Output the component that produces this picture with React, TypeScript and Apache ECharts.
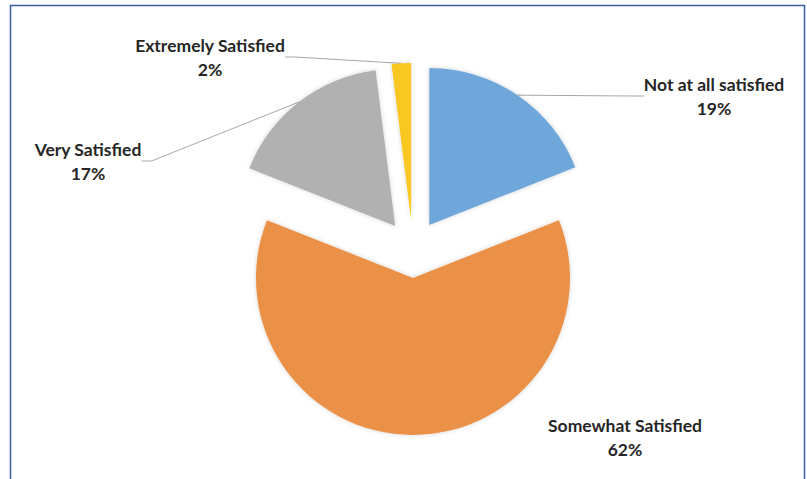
import React, { useEffect, useRef } from "react";
import * as echarts from "echarts";

const categories = ["Not at all satisfied", "Somewhat Satisfied", "Very Satisfied", "Extremely Satisfied"];
const percentValues = [19, 62, 17, 2];
const sliceColors = ["#6fa7da", "#eb9047", "#b1b1b1", "#f8c724"];
const labelCenters: [number, number][] = [
  [714, 96],
  [625, 437],
  [88, 161],
  [210, 57],
];
const showLeader = [true, false, true, true];

const CX = 413;
const CY = 249;
const RADIUS = 157;
const EXPLODE = 29;

export default function App() {
  const ref = useRef<HTMLDivElement>(null);
  useEffect(() => {
    if (!ref.current) return;
    const chart = echarts.init(ref.current, undefined, { renderer: "svg" });
    const total = percentValues.reduce((a, b) => a + b, 0);
    let acc = 0;
    const series = categories.map((_, k) => {
      const start = acc;
      acc += percentValues[k];
      const midAngle = ((start + percentValues[k] / 2) / total) * Math.PI * 2;
      const cx = CX + EXPLODE * Math.sin(midAngle);
      const cy = CY - EXPLODE * Math.cos(midAngle);
      return {
        type: "pie",
        center: [cx, cy],
        radius: RADIUS,
        startAngle: 90,
        clockwise: true,
        avoidLabelOverlap: false,
        emphasis: { disabled: true },
        silent: true,
        label: {
          show: true,
          position: "outside",
          formatter: (p: any) => `${p.name}\n${p.value}%`,
          fontFamily: "Lato",
          fontWeight: "bold",
          fontSize: 17.5,
          lineHeight: 24,
          color: "#262626",
        },
        labelLine: {
          show: true,
          length: 20,
          length2: 10,
          lineStyle: { color: "#a6a6a6", width: 1 },
        },
        labelLayout: (params: any) => {
          const p = labelCenters[params.dataIndex];
          return { x: p[0], y: p[1], align: "center", verticalAlign: "middle" };
        },
        data: categories.map((name, i) => ({
          name,
          value: percentValues[i],
          itemStyle:
            i === k
              ? { color: sliceColors[i], shadowBlur: 4, shadowColor: "rgba(0,0,0,0.18)" }
              : { color: "rgba(0,0,0,0)" },
          label: { show: i === k },
          labelLine: { show: i === k && showLeader[i] },
        })),
      };
    });
    chart.setOption({
      animation: false,
      backgroundColor: "#ffffff",
      graphic: [
        {
          type: "rect",
          shape: { x: 10.5, y: 5.5, width: 794, height: 520 },
          style: { fill: "none", stroke: "#3f5f9f", lineWidth: 1.5 },
          silent: true,
        },
      ],
      series,
    });
    return () => chart.dispose();
  }, []);
  return (
    <div
      ref={ref}
      style={{ position: "fixed", left: 0, top: 0, width: 807, height: 479 }}
    />
  );
}
